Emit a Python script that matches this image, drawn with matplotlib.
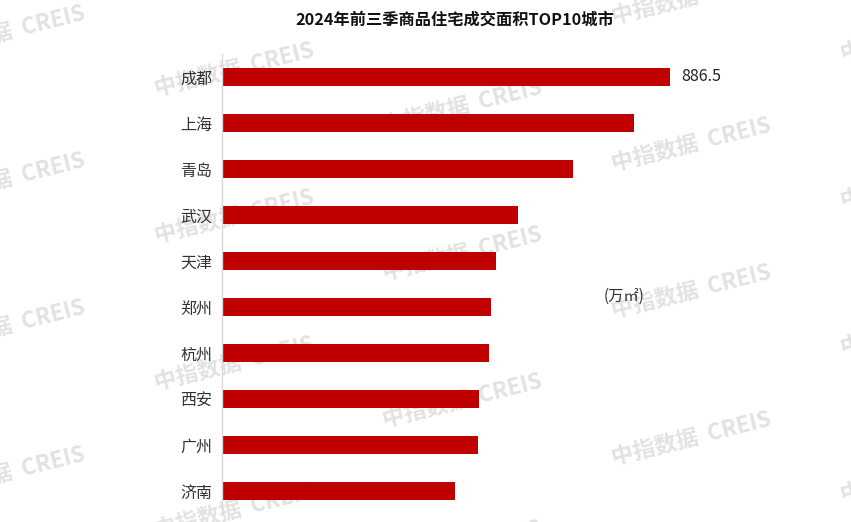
import matplotlib.pyplot as plt

plt.rcParams['font.family'] = ['Noto Sans CJK SC', 'DejaVu Sans']

# data
cities = ['成都', '上海', '青岛', '武汉', '天津', '郑州', '杭州', '西安', '广州', '济南']
areas = [886.5, 814.5, 694.7, 586.0, 542.5, 532.5, 529.0, 509.0, 507.5, 461.4]
title = '2024年前三季商品住宅成交面积TOP10城市'
unit_label = '(万㎡)'

W, H = 851, 522
fig = plt.figure(figsize=(W / 100, H / 100), dpi=100)

# watermark grid (pixel centres)
wm_cols = [5, 234, 462, 691, 920]
wm_base = [33, 70, 107, 145, 182]
for ci, cx in enumerate(wm_cols):
    for k in range(-1, 4):
        cy = wm_base[ci] + k * 147
        t = fig.text(cx / W, 1 - cy / H, '中指数据  CREIS', fontsize=16, fontweight='bold',
                     color='#E2E2E2', rotation=14, ha='center', va='center')
        t.set_zorder(-5)

left, right = 221.7, 800
top, bottom = 54, 514
ax = fig.add_axes([left / W, 1 - bottom / H, (right - left) / W, (bottom - top) / H])
ax.patch.set_alpha(0)

pos = list(range(len(cities)))
ax.barh(pos, areas, height=0.41, color='#C00000', zorder=2)
ax.set_xlim(0, (right - left) * 886.5 / 448.3)
ax.set_ylim(len(cities) - 0.5, -0.5)
ax.set_yticks(pos)
ax.set_yticklabels(cities, fontsize=11.5, color='#333333')
ax.tick_params(axis='y', length=0, pad=7)
ax.set_xticks([])

for s in ['top', 'right', 'bottom']:
    ax.spines[s].set_visible(False)
ax.spines['left'].set_color('#D9D9D9')
ax.spines['left'].set_linewidth(1)

ax.text(areas[0] + 22, 0, f'{areas[0]}', va='center', ha='left', fontsize=11.5, color='#222222')
ax.text(756, 4.76, unit_label, va='center', ha='left', fontsize=11, color='#333333')

fig.text(455 / W, 1 - 20 / H, title, ha='center', va='center', fontsize=11.7,
         fontweight='bold', color='#111111')

plt.savefig('out.png', dpi=100)
